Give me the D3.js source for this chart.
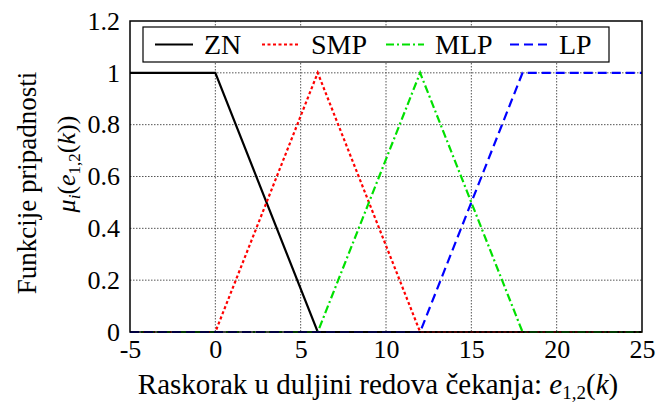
<!DOCTYPE html>
<html><head><meta charset="utf-8">
<script src="https://cdn.jsdelivr.net/npm/d3@7"></script>
<style>body{margin:0;background:#fff}svg{display:block;font-family:"Liberation Serif","Times New Roman",serif}</style>
</head><body>
<svg id="c" width="657" height="403"></svg>
<script>
const seriesNames = ["ZN", "SMP", "MLP", "LP"];
const seriesColors = ["#000000", "#ff0000", "#00e000", "#0000ff"];
const znX = [-5, 0, 6, 25];
const znY = [1, 1, 0, 0];
const smpX = [-5, 0, 6, 12, 25];
const smpY = [0, 0, 1, 0, 0];
const mlpX = [-5, 6, 12, 18, 25];
const mlpY = [0, 0, 1, 0, 0];
const lpX = [-5, 12, 18, 25];
const lpY = [0, 0, 1, 1];
const xTicks = [-5, 0, 5, 10, 15, 20, 25];
const xTickLabels = ["-5", "0", "5", "10", "15", "20", "25"];
const yTicks = [0, 0.2, 0.4, 0.6, 0.8, 1, 1.2];
const yTickLabels = ["0", "0.2", "0.4", "0.6", "0.8", "1", "1.2"];

const svg = d3.select("#c");
const L = 130, R = 642, T = 21, B = 332;
const x = d3.scaleLinear().domain([-5, 25]).range([L, R]);
const y = d3.scaleLinear().domain([0, 1.2]).range([B, T]);

// grid
const g = svg.append("g");
g.selectAll(".gx").data(xTicks.slice(1, -1)).join("line")
  .attr("x1", d => x(d)).attr("x2", d => x(d)).attr("y1", T).attr("y2", B)
  .attr("stroke", "#555").attr("stroke-width", 1).attr("stroke-dasharray", "1.5,1.5");
g.selectAll(".gy").data(yTicks.slice(1, -1)).join("line")
  .attr("y1", d => y(d)).attr("y2", d => y(d)).attr("x1", L).attr("x2", R)
  .attr("stroke", "#555").attr("stroke-width", 1).attr("stroke-dasharray", "1.5,1.5");

// axes tick labels
const xa = d3.axisBottom(x).tickValues(xTicks).tickFormat((d, i) => xTickLabels[i]).tickSize(0).tickPadding(8);
const xg = svg.append("g").attr("transform", `translate(0,${B})`).call(xa);
xg.select(".domain").remove();
xg.selectAll("text").attr("font-size", 26).attr("font-family", "Liberation Serif").attr("fill", "#000");
const ya = d3.axisLeft(y).tickValues(yTicks).tickFormat((d, i) => yTickLabels[i]).tickSize(0).tickPadding(10);
const yg = svg.append("g").attr("transform", `translate(${L},0)`).call(ya);
yg.select(".domain").remove();
yg.selectAll("text").attr("font-size", 26).attr("font-family", "Liberation Serif").attr("fill", "#000");

// lines
const dashes = [null, "3,2.5", "8,3,2,3", "9,5"];
const datas = [[znX, znY], [smpX, smpY], [mlpX, mlpY], [lpX, lpY]];
const line = d3.line().x(d => x(d[0])).y(d => y(d[1]));
datas.forEach((dd, i) => {
  const pts = dd[0].map((v, j) => [v, dd[1][j]]);
  svg.append("path").attr("d", line(pts)).attr("fill", "none")
    .attr("stroke", seriesColors[i]).attr("stroke-width", 2.2)
    .attr("stroke-dasharray", dashes[i]);
});

// box
svg.append("rect").attr("x", L).attr("y", T).attr("width", R - L).attr("height", B - T)
  .attr("fill", "none").attr("stroke", "#000").attr("stroke-width", 1.5);

// legend
const lg = svg.append("g");
lg.append("rect").attr("x", 143).attr("y", 27).attr("width", 466).attr("height", 35)
  .attr("fill", "#fff").attr("stroke", "#000").attr("stroke-width", 1.2);
const legX = [155, 262, 386, 510];
seriesNames.forEach((n, i) => {
  lg.append("line").attr("x1", legX[i]).attr("x2", legX[i] + 38).attr("y1", 44.5).attr("y2", 44.5)
    .attr("stroke", seriesColors[i]).attr("stroke-width", 2).attr("stroke-dasharray", dashes[i]);
  lg.append("text").attr("x", legX[i] + 49).attr("y", 54).attr("font-size", 28).attr("fill", "#000").text(n);
});

// axis titles
svg.append("text").attr("x", 378).attr("y", 394).attr("text-anchor", "middle").attr("font-size", 29)
  .html('Raskorak u duljini redova čekanja: <tspan font-style="italic">e</tspan><tspan font-size="19" dy="5">1,2</tspan><tspan dy="-5">(</tspan><tspan font-style="italic">k</tspan>)');
svg.append("text").attr("transform", "translate(36,183) rotate(-90)").attr("text-anchor", "middle").attr("font-size", 27)
  .text("Funkcije pripadnosti");
svg.append("text").attr("transform", "translate(75,164) rotate(-90)").attr("text-anchor", "middle").attr("font-size", 26)
  .html('<tspan font-style="italic">μ</tspan><tspan font-style="italic" font-size="17" dy="5">i</tspan><tspan dy="-5">(</tspan><tspan font-style="italic">e</tspan><tspan font-size="17" dy="5">1,2</tspan><tspan dy="-5">(</tspan><tspan font-style="italic">k</tspan>))');
</script>
</body></html>
